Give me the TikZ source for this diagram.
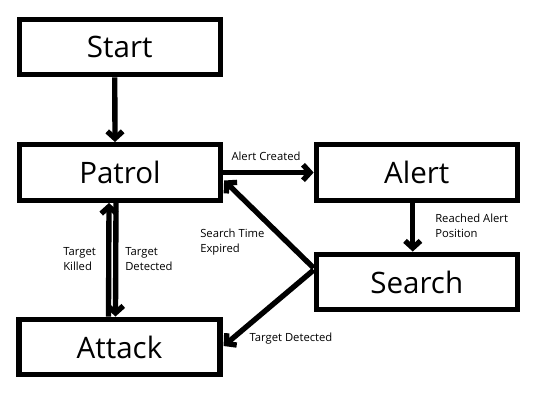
\documentclass[tikz,border=0pt]{standalone}
\usepackage{fontspec}
\setmainfont{Open Sans}
\usetikzlibrary{arrows.meta,calc}
\tikzset{
  state/.style={draw,line width=3.8pt,minimum width=5.02cm,minimum height=1.39cm,inner sep=0pt,font=\fontsize{21}{24}\selectfont},
  trans/.style={line width=3.8pt,-{Straight Barb[length=5pt,width=11pt]}},
  lbl/.style={font=\fontsize{8}{10.7}\selectfont,align=left,inner sep=0pt}
}
\begin{document}
\begin{tikzpicture}[x=0.025cm,y=-0.025cm]
\useasboundingbox (0,0) rectangle (553,405);
% states
\node[state] (start)  at (119.75,47) {Start};
\node[state] (patrol) at (120,172.5) {Patrol};
\node[state] (alert)  at (416.75,172.5) {Alert};
\node[state] (search) at (416.75,282) {Search};
\node[state] (attack) at (119.5,347) {Attack};
% transitions
\draw[trans] ($(start.south)+(-5,0)$) -- ($(patrol.north)+(-5,0)$);
\draw[trans] (patrol.east) -- (alert.west);
\draw[trans] ($(alert.south)+(-4,0)$) -- ($(search.north)+(-4,0)$);
\draw[trans] ($(search.west)+(0,-14)$) -- ($(patrol.east)+(1,8)$);
\draw[trans] ($(search.west)+(0,-12)$) -- ($(attack.east)+(1,-1)$);
\draw[trans] ($(attack.north)+(-11,0)$) -- ($(patrol.south)+(-11,0)$);
\draw[trans] ($(patrol.south)+(-4,0)$) -- ($(attack.north)+(-4,0)$);
% labels
\node[lbl] (lcreated) at (266,156) {Alert Created};
\node[lbl,anchor=west] (lreached) at (435,226) {Reached Alert\\Position};
\node[lbl,anchor=west] (lexpired) at (200,242) {Search Time\\Expired};
\node[lbl,anchor=west] (lkilled) at (63,259) {Target\\Killed};
\node[lbl,anchor=west] (ldetect) at (125,259) {Target\\Detected};
\node[lbl] (ldetect2) at (291,339) {Target Detected};
\end{tikzpicture}
\end{document}
